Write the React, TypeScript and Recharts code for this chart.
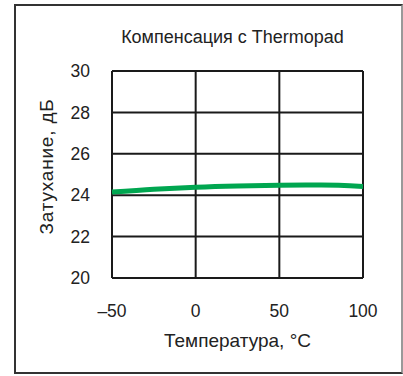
import React from "react";
import { LineChart, Line, XAxis, YAxis, CartesianGrid } from "recharts";

const temperatures = [-50, -25, 0, 25, 50, 75, 100];
const attenuation = [24.15, 24.29, 24.39, 24.45, 24.48, 24.49, 24.42];
const xTicks = [-50, 0, 50, 100];
const yTicks = [20, 22, 24, 26, 28, 30];
const title = "Компенсация с Thermopad";
const xLabel = "Температура, °C";
const yLabel = "Затухание, дБ";

const data = temperatures.map((t, i) => ({ t, v: attenuation[i] }));

const FONT = "'Liberation Sans', Arial, sans-serif";

export default function App() {
  return (
    <div style={{ position: "absolute", left: 0, top: 0, width: 403, height: 376, background: "#fff", fontFamily: FONT }}>
      <div
        style={{
          position: "absolute",
          left: 14,
          top: 4,
          width: 385,
          height: 366,
          borderTop: "2px solid #333",
          borderLeft: "2px solid #333",
          borderBottom: "2px solid #333",
          borderRight: "2px solid #999",
        }}
      />
      <div
        style={{
          position: "absolute",
          left: 0,
          top: 27,
          width: 465,
          textAlign: "center",
          fontSize: 18,
          color: "#222",
          whiteSpace: "nowrap",
        }}
      >
        {title}
      </div>
      <div style={{ position: "absolute", left: 0, top: 0 }}>
        <LineChart width={403} height={376} data={data} margin={{ top: 71, right: 40, left: 0, bottom: 0 }}>
          <CartesianGrid stroke="#1a1a1a" strokeWidth={2} horizontalValues={yTicks} verticalValues={xTicks} />
          <XAxis
            dataKey="t"
            type="number"
            domain={[-50, 100]}
            ticks={xTicks}
            height={98}
            axisLine={false}
            tickLine={false}
            tickSize={0}
            tickMargin={27}
            tickFormatter={(v: number) => (v < 0 ? "\u2013" + Math.abs(v) : String(v))}
            tick={{ fill: "#222", fontSize: 17.5, fontFamily: FONT }}
            label={{ value: xLabel, position: "insideBottom", offset: 29, fill: "#222", fontSize: 19, fontFamily: FONT }}
          />
          <YAxis
            type="number"
            domain={[20, 30]}
            ticks={yTicks}
            width={112}
            axisLine={false}
            tickLine={false}
            tickSize={0}
            tickMargin={22}
            tick={{ fill: "#222", fontSize: 17.5, fontFamily: FONT }}
            label={{ value: yLabel, angle: -90, position: "insideLeft", offset: 46, dy: -8, fill: "#222", fontSize: 19, fontFamily: FONT, letterSpacing: 0.8, style: { textAnchor: "middle" } }}
          />
          <Line type="monotone" dataKey="v" stroke="#00a650" strokeWidth={5} dot={false} isAnimationActive={false} />
        </LineChart>
      </div>
    </div>
  );
}
